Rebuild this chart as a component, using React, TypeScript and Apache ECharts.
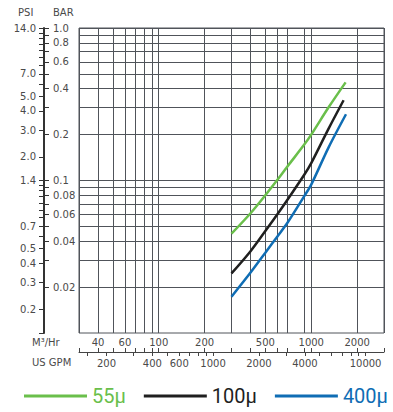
import React, { useEffect, useRef } from "react";
import * as echarts from "echarts";

// ---- data ----
const m3Grid = [30, 40, 50, 60, 70, 80, 90, 100, 200, 300, 400, 500, 600, 700, 900, 1000, 2000, 3000];
const m3Labels = [40, 60, 100, 200, 500, 1000, 2000];
const gpmTicks = [150, 200, 300, 400, 500, 600, 700, 800, 900, 1000, 2000, 3000, 4000, 5000, 6000, 7000, 8000, 9000, 10000];
const gpmLabels = [200, 400, 600, 1000, 2000, 4000, 10000];
const barTicks = [1.0, 0.9, 0.8, 0.7, 0.6, 0.5, 0.4, 0.3, 0.2, 0.1, 0.09, 0.08, 0.07, 0.06, 0.05, 0.04, 0.03, 0.02];
const barLabels = [1.0, 0.8, 0.6, 0.4, 0.2, 0.1, 0.08, 0.06, 0.04, 0.02];
const psiTicks = [14, 13, 12, 11, 10, 9, 8, 7, 6, 5, 4, 3, 2, 1.4, 1.3, 1.2, 1.1, 1.0, 0.9, 0.8, 0.7, 0.6, 0.5, 0.4, 0.3, 0.2, 0.14];
const psiLabels = [14, 7, 5, 4, 3, 2, 1.4, 0.7, 0.5, 0.4, 0.3, 0.2];

const flow55 = [300, 400, 500, 600, 700, 900, 1000, 1300, 1680];
const bar55 = [0.0448, 0.061, 0.080, 0.101, 0.124, 0.172, 0.200, 0.302, 0.44];
const flow100 = [300, 400, 500, 600, 700, 900, 1000, 1300, 1630];
const bar100 = [0.0246, 0.0344, 0.0466, 0.060, 0.075, 0.109, 0.130, 0.219, 0.336];
const flow400 = [300, 400, 500, 600, 700, 900, 1000, 1300, 1690];
const bar400 = [0.0173, 0.0249, 0.0336, 0.043, 0.053, 0.079, 0.094, 0.165, 0.272];

const M3_MIN = 30;
const M3_MAX = 3000;
const BAR_MIN = 0.01;
const BAR_MAX = 1.0;
const PSI_PER_BAR = 14;
const GPM_PER_M3 = 4.403;

const GREEN = "#6abf4b";
const BLACK = "#1f1f1f";
const BLUE = "#0f6db4";
const GRID = "#50545a";
const TXT = "#4a4a4a";
const FONT = "DejaVu Sans";

const lg = (v: number) => Math.log10(v);
const pts = (f: number[], b: number[]) => f.map((x, i) => [lg(x), lg(b[i])]);

export default function App() {
  const ref = useRef<HTMLDivElement>(null);
  useEffect(() => {
    if (!ref.current) return;
    const chart = echarts.init(ref.current, undefined, { renderer: "svg" });
    const lbl = { fontFamily: FONT, fontSize: 10, color: TXT };
    chart.setOption({
      animation: false,
      grid: {
        left: 79,
        top: 28,
        width: 305,
        height: 305,
        show: true,
        borderColor: GRID,
        borderWidth: 1,
        backgroundColor: "transparent",
      },
      xAxis: [
        {
          type: "value",
          min: lg(M3_MIN),
          max: lg(M3_MAX),
          position: "bottom",
          offset: 19,
          axisLine: { show: true, onZero: false, lineStyle: { color: "#444", width: 1 } },
          axisTick: { show: true, inside: true, length: 4, customValues: m3Grid.map(lg), lineStyle: { color: "#444" } },
          axisLabel: {
            ...lbl,
            inside: true,
            margin: 5,
            customValues: m3Labels.map(lg),
            formatter: (v: number) => String(Math.round(Math.pow(10, v))),
          },
          splitLine: { show: true, lineStyle: { color: GRID, width: 1 } },
        },
        {
          type: "value",
          min: lg(M3_MIN * GPM_PER_M3),
          max: lg(M3_MAX * GPM_PER_M3),
          position: "bottom",
          offset: 19,
          axisLine: { show: false, onZero: false },
          axisTick: { show: true, inside: false, length: 4, customValues: gpmTicks.map(lg), lineStyle: { color: "#444" } },
          axisLabel: {
            ...lbl,
            margin: 6,
            customValues: gpmLabels.map(lg),
            formatter: (v: number) => String(Math.round(Math.pow(10, v))),
          },
          splitLine: { show: false },
        },
      ],
      yAxis: [
        {
          type: "value",
          min: lg(BAR_MIN),
          max: lg(BAR_MAX),
          position: "left",
          offset: 35,
          axisLine: { show: true, onZero: false, lineStyle: { color: "#333", width: 2 } },
          axisTick: { show: true, inside: true, length: 5, customValues: barTicks.map(lg), lineStyle: { color: "#333" } },
          axisLabel: {
            ...lbl,
            inside: true,
            margin: 9,
            customValues: barLabels.map(lg),
            formatter: (v: number) => {
              const b = Math.pow(10, v);
              return b >= 0.099 ? b.toFixed(1) : b.toFixed(2);
            },
          },
          splitLine: { show: true, lineStyle: { color: GRID, width: 1 } },
        },
        {
          type: "value",
          min: lg(BAR_MIN * PSI_PER_BAR),
          max: lg(BAR_MAX * PSI_PER_BAR),
          position: "left",
          offset: 35,
          axisLine: { show: false, onZero: false },
          axisTick: { show: true, inside: false, length: 5, customValues: psiTicks.map(lg), lineStyle: { color: "#333" } },
          axisLabel: {
            ...lbl,
            margin: 8,
            customValues: psiLabels.map(lg),
            formatter: (v: number) => Math.pow(10, v).toFixed(1),
          },
          splitLine: { show: false },
        },
      ],
      legend: {
        left: 19,
        top: 381,
        width: 380,
        itemWidth: 63,
        itemHeight: 3,
        itemGap: 18,
        icon: "rect",
        textStyle: { fontSize: 20, fontFamily: "Roboto" },
        data: [
          { name: "55μ", textStyle: { color: GREEN } },
          { name: "100μ", textStyle: { color: BLACK } },
          { name: "400μ", textStyle: { color: BLUE } },
        ],
      },
      graphic: [
        { type: "text", left: 18, top: 7, style: { text: "PSI", fill: TXT, font: `10px ${FONT}` } },
        { type: "text", left: 53, top: 7, style: { text: "BAR", fill: TXT, font: `10px ${FONT}` } },
        { type: "text", left: 32, top: 337, style: { text: "M³/Hr", fill: TXT, font: `10px ${FONT}` } },
        { type: "text", left: 32, top: 357, style: { text: "US GPM", fill: TXT, font: `10px ${FONT}` } },
      ],
      series: [
        { name: "55μ", type: "line", data: pts(flow55, bar55), smooth: 0.3, showSymbol: false, color: GREEN, lineStyle: { width: 2.5, color: GREEN } },
        { name: "100μ", type: "line", data: pts(flow100, bar100), smooth: 0.3, showSymbol: false, color: BLACK, lineStyle: { width: 2.5, color: BLACK } },
        { name: "400μ", type: "line", data: pts(flow400, bar400), smooth: 0.3, showSymbol: false, color: BLUE, lineStyle: { width: 2.5, color: BLUE } },
      ],
    });
    return () => chart.dispose();
  }, []);
  return (
    <div
      ref={ref}
      style={{ position: "fixed", left: 0, top: 0, width: 393, height: 412, background: "#fff" }}
    />
  );
}
